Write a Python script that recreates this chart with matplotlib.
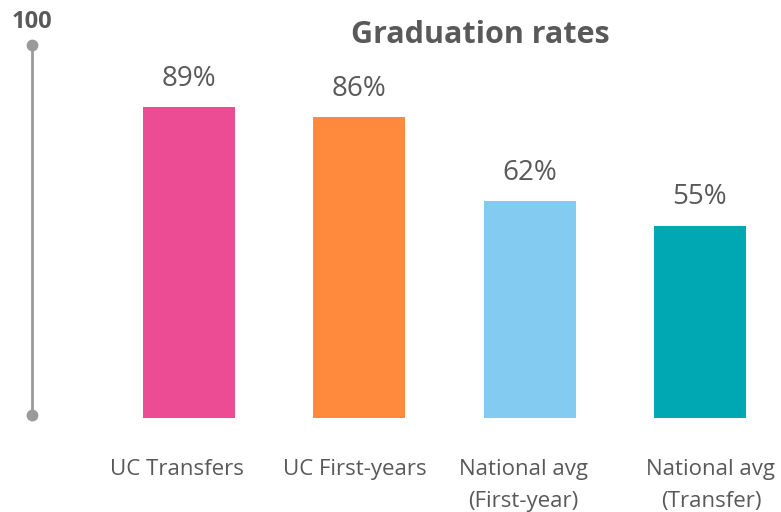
import matplotlib
matplotlib.use("Agg")
import matplotlib.pyplot as plt

categories = ["UC Transfers", "UC First-years", "National avg\n(First-year)", "National avg\n(Transfer)"]
values = [89, 86, 62, 55]
value_labels = ["89%", "86%", "62%", "55%"]
colors = ["#EB4C94", "#FF8A3D", "#83CBF0", "#00A8B4"]
label_shift_px = [-12, -5, -6, 11]
title = "Graduation rates"
axis_top_label = "100"

plt.rcParams['font.family'] = ['Open Sans', 'DejaVu Sans']
txt = "#595959"

fig = plt.figure(figsize=(7.81, 5.12), dpi=100)
ax = fig.add_axes([0, 0, 1, 1])
ax.set_axis_off()

spacing = 170.33
x0 = 189.0
ax.set_xlim(-x0 / spacing, (781 - x0) / spacing)
ax.set_ylim(-(512 - 418) / 3.5, 418 / 3.5)

xs = list(range(len(values)))
ax.bar(xs, values, width=92 / spacing, color=colors)
for x, v, lab in zip(xs, values, value_labels):
    ax.text(x, v + 6, lab, ha="center", va="baseline", fontsize=20, color=txt)

line_baselines_px = [475, 507]
for x, c, s in zip(xs, categories, label_shift_px):
    for line, bpx in zip(c.split("\n"), line_baselines_px):
        ax.text(x + s / spacing, -(bpx - 418) / 3.5, line, ha="center", va="baseline",
                fontsize=16, color=txt)

# decorative vertical axis
ax_x = (32 - x0) / spacing
ax_top = (418 - 45) / 3.5
ax.plot([ax_x, ax_x], [(418 - 415) / 3.5, ax_top], color="#9A9A9A", lw=2, marker="o", ms=7.5,
        solid_capstyle="butt")
ax.text(ax_x, (418 - 28) / 3.5, axis_top_label, ha="center", va="baseline", fontsize=17,
        fontweight="bold", color=txt)

ax.text((480 - x0) / spacing, (418 - 35) / 3.5, title, ha="center", va="center", fontsize=22,
        fontweight="bold", color=txt)

fig.savefig("out.png", dpi=100)
